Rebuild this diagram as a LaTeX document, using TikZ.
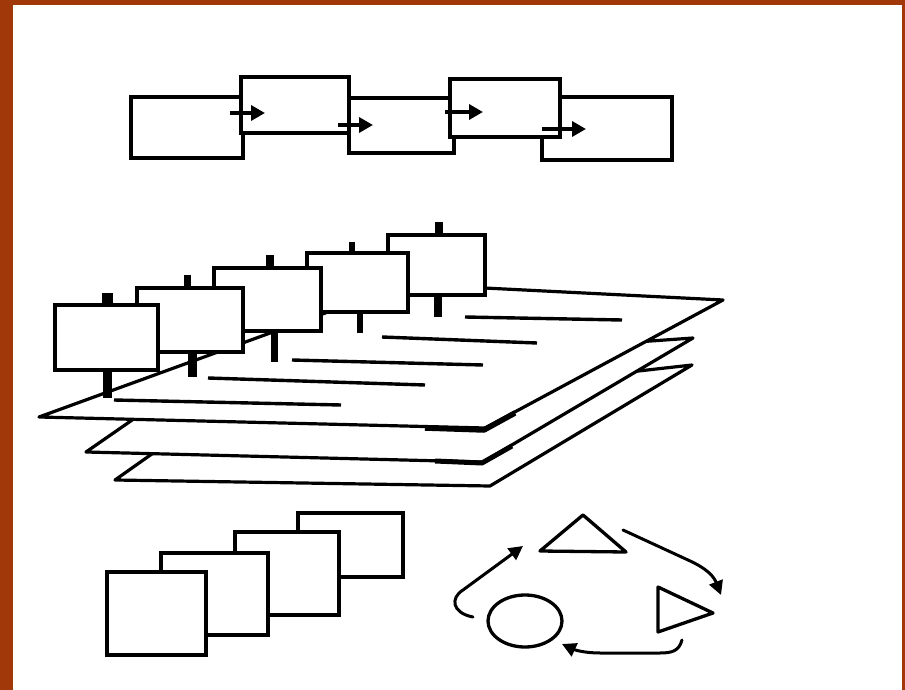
\documentclass[tikz,border=0pt]{standalone}
\usetikzlibrary{arrows.meta}
\definecolor{frame}{RGB}{160,56,10}
\tikzset{
  box/.style={draw=black,fill=white,line width=3.8pt,line join=miter},
  plane/.style={draw=black,fill=white,line width=3.2pt,line join=round},
  txtline/.style={draw=black,line width=3.4pt},
  post/.style={draw=black,line cap=butt},
  chainarrow/.style={draw=black,line width=3.4pt,-{Triangle[length=14pt,width=15pt]}},
  cyclearrow/.style={draw=black,line width=3pt,line cap=round,-{Triangle[length=14pt,width=14pt]}},
  shapeline/.style={draw=black,fill=white,line width=3.3pt,line join=round},
}
\begin{document}
\begin{tikzpicture}[x=1pt,y=-1pt]
\useasboundingbox (0,0) rectangle (905,690);
% frame
\fill[frame] (0,0) rectangle (905,690);
\fill[white] (13,5) rectangle (902,690);

% ---------- top chain ----------
\draw[box] (131,97) rectangle (243,158);
\draw[box] (349,98) rectangle (454,153);
\draw[box] (542,97) rectangle (672,160);
\draw[box] (241,77) rectangle (349,133);
\draw[box] (450,79) rectangle (560,137);
\coordinate (a1s) at (230,113); \coordinate (a1e) at (265,113);
\coordinate (a2s) at (338,125); \coordinate (a2e) at (373,125);
\coordinate (a3s) at (445,112); \coordinate (a3e) at (483,112);
\coordinate (a4s) at (542,129); \coordinate (a4e) at (586,129);
\draw[chainarrow] (a1s) -- (a1e);
\draw[chainarrow] (a2s) -- (a2e);
\draw[chainarrow] (a3s) -- (a3e);
\draw[chainarrow] (a4s) -- (a4e);

% ---------- stacked planes ----------
\draw[plane] (115,480) -- (490,486) -- (692,365) -- (200,420) -- cycle;
\draw[plane] (86,452) -- (483,462) -- (693,338) -- (200,373) -- cycle;
\draw[plane] (39,417) -- (485,428) -- (723,300) -- (405,284) -- cycle;
% heavy shadow at front-right corners
\draw[line width=5.5pt,line join=round] (425,428) -- (484,430) -- (515,413);
\draw[line width=5pt,line join=round] (435,461) -- (482,463) -- (512,446);
% text lines on the top plane
\draw[txtline] (465,317) -- (622,320);
\draw[txtline] (382,337) -- (537,343);
\draw[txtline] (292,360) -- (483,365);
\draw[txtline] (208,378) -- (425,385);
\draw[txtline] (114,400) -- (341,405);

% ---------- signs (back to front) ----------
% sign 5
\draw[post,line width=8pt] (437.5,295) -- (437.5,317);
\draw[box] (388,235) rectangle (485,295);
\draw[post,line width=8pt] (439,222) -- (439,235);
% sign 4
\draw[post,line width=6.5pt] (360,312) -- (360,333);
\draw[box] (307,253) rectangle (408,312);
\draw[post,line width=6.5pt] (352,242) -- (352,253);
% sign 3
\draw[post,line width=7pt] (274,331) -- (274,362);
\draw[box] (214,268) rectangle (321,331);
\draw[post,line width=8pt] (270,255) -- (270,268);
% sign 2
\draw[post,line width=9pt] (192,352) -- (192,377);
\draw[box] (137,288) rectangle (243,352);
\draw[post,line width=7pt] (187,275) -- (187,288);
% sign 1
\draw[post,line width=9pt] (107,370) -- (107,398);
\draw[box] (55,305) rectangle (158,370);
\draw[post,line width=11pt] (107,293) -- (107,305);

% ---------- overlapping squares ----------
\draw[box] (298,513) rectangle (403,577);
\draw[box] (235,532) rectangle (339,615);
\draw[box] (161,553) rectangle (268,635);
\draw[box] (107,572) rectangle (206,655);

% ---------- cycle of shapes ----------
\draw[shapeline] (583,515) -- (626,552) -- (540,551) -- cycle;
\draw[shapeline] (658,587) -- (713,613) -- (658,632) -- cycle;
\draw[shapeline] (525,621) ellipse [x radius=37, y radius=26];
\coordinate (c1s) at (473,617); \coordinate (c1e) at (523,546);
\coordinate (c2s) at (623,530); \coordinate (c2e) at (721,595);
\coordinate (c3s) at (682,640); \coordinate (c3e) at (562,644);
\draw[cyclearrow] (c1s) .. controls (452,613) and (450,598) .. (463,590) -- (c1e);
\draw[cyclearrow] (c2s) -- (688,560) .. controls (708,569) and (714,577) .. (c2e);
\draw[cyclearrow] (c3s) .. controls (679,651) and (672,653) .. (660,653) -- (600,653) .. controls (585,653) and (575,650) .. (c3e);
\end{tikzpicture}
\end{document}
